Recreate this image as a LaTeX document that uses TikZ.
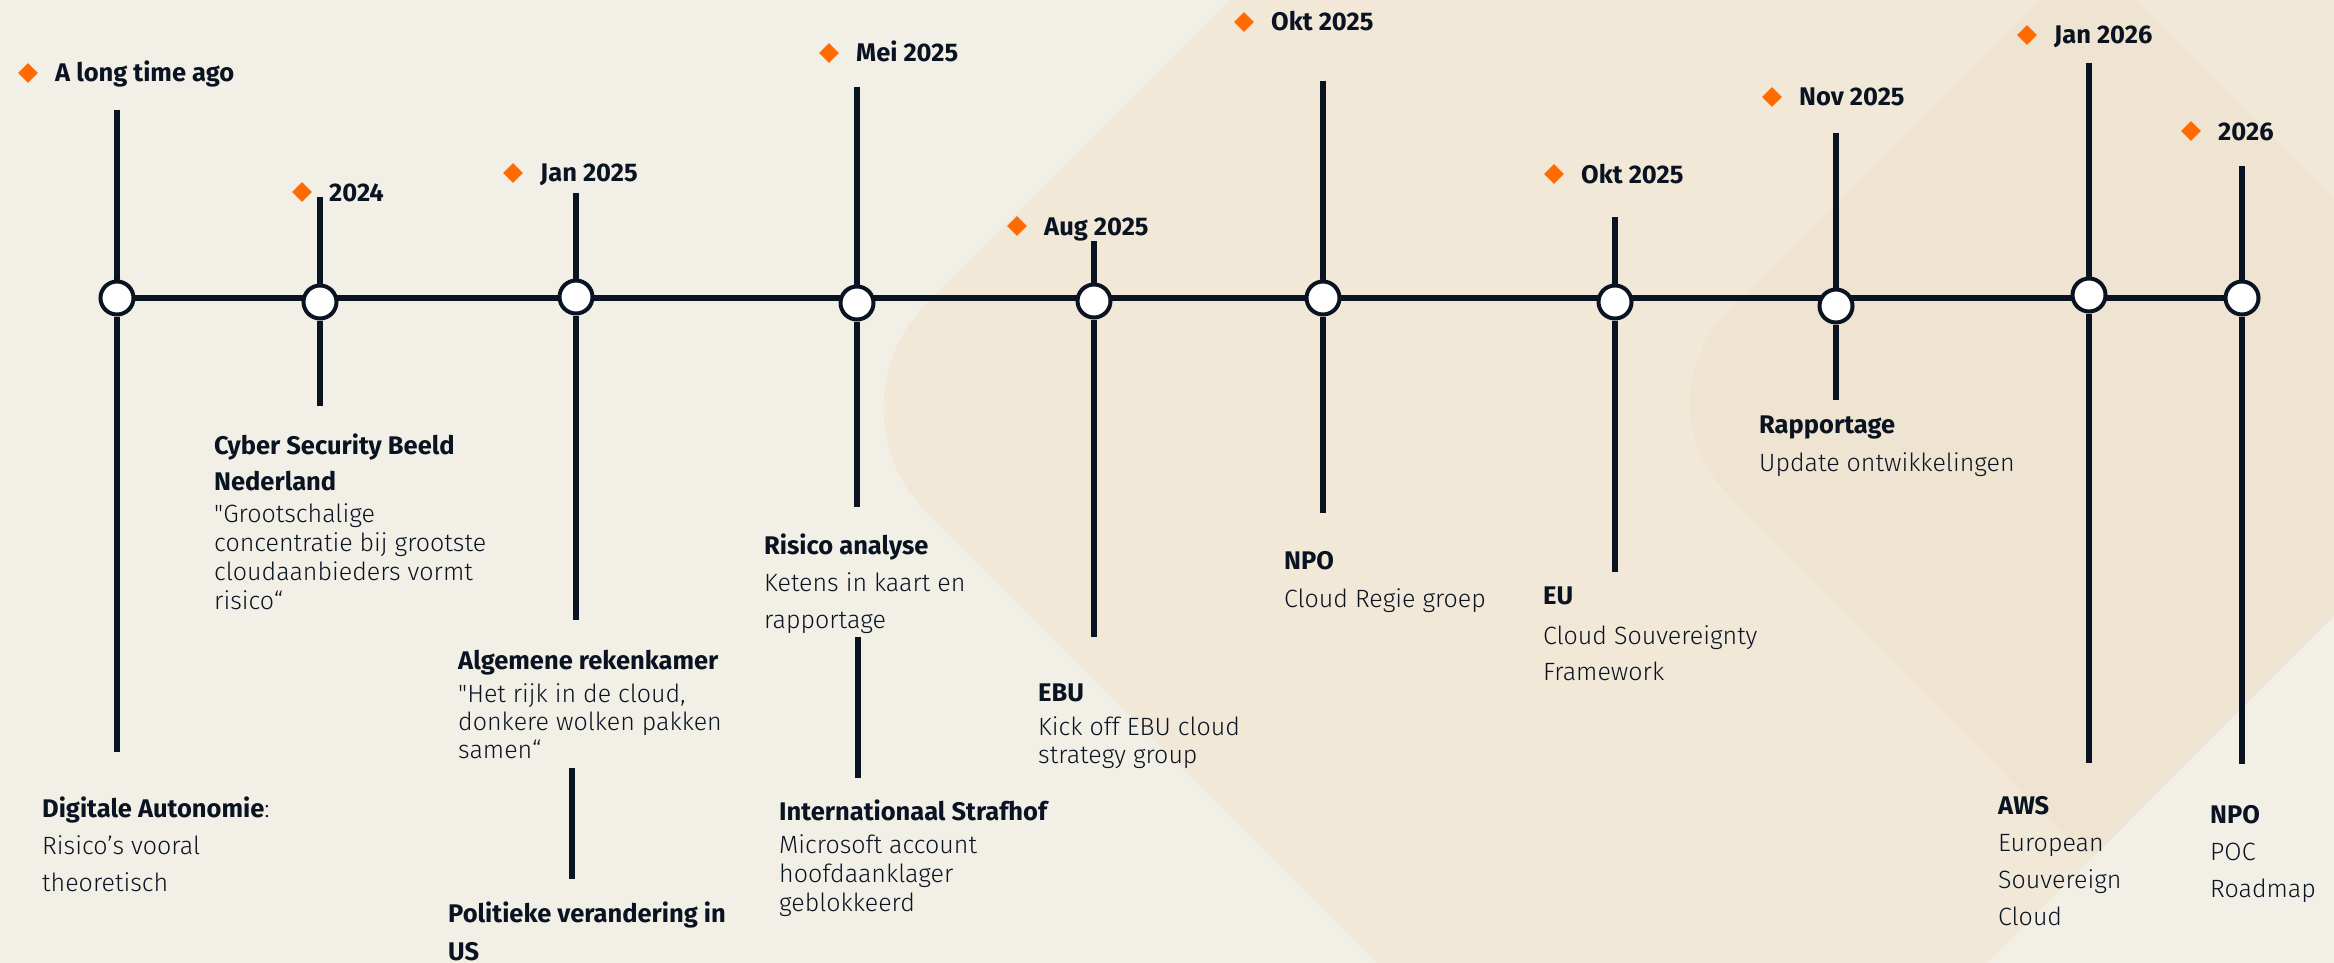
\documentclass[tikz,border=0pt]{standalone}
\usepackage{fontspec}
\setmainfont{Fira Sans}
\IfFontExistsTF{Fira Sans Book}{\newfontfamily\boek{Fira Sans Book}}{%
	\IfFontExistsTF{Fira Sans Light}{\newfontfamily\boek{Fira Sans Light}}{\newfontfamily\boek{Fira Sans}}}
\usetikzlibrary{shapes.geometric}

\definecolor{creme}{HTML}{F2F0E6}
\definecolor{zand}{HTML}{F1E8D8}
\definecolor{zanddonker}{HTML}{EFE4D1}
\definecolor{inkt}{HTML}{0A1322}
\definecolor{oranje}{HTML}{FF6B00}

\begin{document}
\begin{tikzpicture}[x=1pt,y=-1pt,
	tijdlijn/.style={line width=5.5pt,draw=inkt},
	steel/.style={line width=5.5pt,draw=inkt},
	bol/.style={circle,draw=inkt,fill=white,line width=4pt,minimum size=33pt,inner sep=0pt},
	ruit/.style={diamond,fill=oranje,minimum size=20pt,inner sep=0pt},
	datum/.style={anchor=base west,inner sep=0pt,text=inkt,font=\fontsize{25.5}{30}\selectfont\bfseries},
	kop/.style={anchor=base west,inner sep=0pt,align=left,text=inkt,font=\fontsize{25.5}{#1}\selectfont\bfseries},
	kop/.default=36,
	tekst/.style={anchor=base west,inner sep=0pt,align=left,text=inkt,font=\boek\fontsize{25}{#1}\selectfont},
	tekst/.default=37]

		\useasboundingbox (0,0) rectangle (2334,963);
		% achtergrond
		\fill[creme] (0,0) rectangle (2334,963);
		\fill[zand] (2322,-1092) -- (927,303) .. controls (869,361) and (869,455) .. (927,513)
			-- (1682,1268) -- (3182,-232) -- cycle;
		\fill[zanddonker] (2088,-48) -- (1727.5,312.5) .. controls (1677.5,362.5) and (1677.5,443.5) .. (1727.5,493.5)
			-- (2069,839) .. controls (2090,860) .. (2111,839) -- (2543,406) -- cycle;

		% tijdlijn
		\coordinate (begin) at (117,298);
		\coordinate (eind) at (2242,298);
		\draw[tijdlijn] (begin) -- (eind);

		\node[bol] (c1) at (begin) {};
		\node[bol] (c2) at (320,302) {};
		\node[bol] (c3) at (576,297) {};
		\node[bol] (c4) at (857,303) {};
		\node[bol] (c5) at (1094,301) {};
		\node[bol] (c6) at (1323,298) {};
		\node[bol] (c7) at (1615,302) {};
		\node[bol] (c8) at (1836,306) {};
		\node[bol] (c9) at (2089,295) {};
		\node[bol] (c10) at (eind) {};

		% stelen boven en onder
		\coordinate (b1) at (117,110);  \coordinate (o1) at (117,752);
		\coordinate (b2) at (320,197);  \coordinate (o2) at (320,406);
		\coordinate (b3) at (576,193);  \coordinate (o3) at (576,620);
		\coordinate (b4) at (857,87);   \coordinate (o4) at (857,507);
		\coordinate (b5) at (1094,241); \coordinate (o5) at (1094,637);
		\coordinate (b6) at (1323,81);  \coordinate (o6) at (1323,513);
		\coordinate (b7) at (1615,217); \coordinate (o7) at (1615,572);
		\coordinate (b8) at (1836,133); \coordinate (o8) at (1836,400);
		\coordinate (b9) at (2089,63);  \coordinate (o9) at (2089,763);
		\coordinate (b10) at (2242,166); \coordinate (o10) at (2242,764);
		\draw[steel] (b1) -- (c1) -- (o1);
		\draw[steel] (b2) -- (c2) -- (o2);
		\draw[steel] (b3) -- (c3) -- (o3);
		\draw[steel] (b4) -- (c4) -- (o4);
		\draw[steel] (b5) -- (c5) -- (o5);
		\draw[steel] (b6) -- (c6) -- (o6);
		\draw[steel] (b7) -- (c7) -- (o7);
		\draw[steel] (b8) -- (c8) -- (o8);
		\draw[steel] (b9) -- (c9) -- (o9);
		\draw[steel] (b10) -- (c10) -- (o10);
		% losse stukjes tussen de teksten
		\coordinate (m3a) at (572,768); \coordinate (m3b) at (572,879);
		\coordinate (m4a) at (858,637); \coordinate (m4b) at (858,778);
		\draw[steel] (m3a) -- (m3b);
		\draw[steel] (m4a) -- (m4b);

		% data
		\node[datum] (d1) at (55,82) {A long time ago};
		\node[datum] (d2) at (329,201) {2024};
		\node[datum] (d3) at (540,182) {Jan 2025};
		\node[datum] (d4) at (856,62) {Mei 2025};
		\node[datum] (d5) at (1044,235) {Aug 2025};
		\node[datum] (d6) at (1271,31) {Okt 2025};
		\node[datum] (d7) at (1581,183) {Okt 2025};
		\node[datum] (d8) at (1799,106) {Nov 2025};
		\node[datum] (d9) at (2054,44) {Jan 2026};
		\node[datum] (d10) at (2218,140) {2026};
		\node[ruit] (r1) at ([shift={(-27,-9)}]d1.base west) {};
		\node[ruit] (r2) at ([shift={(-27,-9)}]d2.base west) {};
		\node[ruit] (r3) at ([shift={(-27,-9)}]d3.base west) {};
		\node[ruit] (r4) at ([shift={(-27,-9)}]d4.base west) {};
		\node[ruit] (r5) at ([shift={(-27,-9)}]d5.base west) {};
		\node[ruit] (r6) at ([shift={(-27,-9)}]d6.base west) {};
		\node[ruit] (r7) at ([shift={(-27,-9)}]d7.base west) {};
		\node[ruit] (r8) at ([shift={(-27,-9)}]d8.base west) {};
		\node[ruit] (r9) at ([shift={(-27,-9)}]d9.base west) {};
		\node[ruit] (r10) at ([shift={(-27,-9)}]d10.base west) {};

		% gebeurtenissen (meerregelige teksten staan op de basislijn van hun laatste regel)
		\node[kop] (k1) at (42,817) {Digitale Autonomie{\boek\mdseries:}};
		\node[tekst] (t1) at (42,891) {Risico’s vooral\\theoretisch};
		\node[kop] (k2) at (214,490) {Cyber Security Beeld\\Nederland};
		\node[tekst=29] (t2) at (214,609) {"Grootschalige\\concentratie bij grootste\\cloudaanbieders vormt\\risico“};
		\node[kop] (k3) at (458,669) {Algemene rekenkamer};
		\node[tekst=28] (t3) at (458,758) {"Het rijk in de cloud,\\donkere wolken pakken\\samen“};
		\node[kop=38] (k4) at (448,960) {Politieke verandering in\\US};
		\node[kop] (k5) at (764,554) {Risico analyse};
		\node[tekst] (t5) at (764,628) {Ketens in kaart en\\rapportage};
		\node[kop] (k6) at (779,820) {Internationaal Strafhof};
		\node[tekst=29] (t6) at (779,911) {Microsoft account\\hoofdaanklager\\geblokkeerd};
		\node[kop] (k7) at (1038,701) {EBU};
		\node[tekst=28] (t7) at (1038,763) {Kick off EBU cloud\\strategy group};
		\node[kop] (k8) at (1284,569) {NPO};
		\node[tekst] (t8) at (1284,607) {Cloud Regie groep};
		\node[kop] (k9) at (1543,604) {EU};
		\node[tekst=36] (t9) at (1543,680) {Cloud Souvereignty\\Framework};
		\node[kop] (k10) at (1759,433) {Rapportage};
		\node[tekst] (t10) at (1759,471) {Update ontwikkelingen};
		\node[kop] (k11) at (1998,814) {AWS};
		\node[tekst] (t11) at (1998,925) {European\\Souvereign\\Cloud};
		\node[kop] (k12) at (2210,823) {NPO};
		\node[tekst] (t12) at (2210,897) {POC\\Roadmap};
	\end{tikzpicture}
\end{document}
